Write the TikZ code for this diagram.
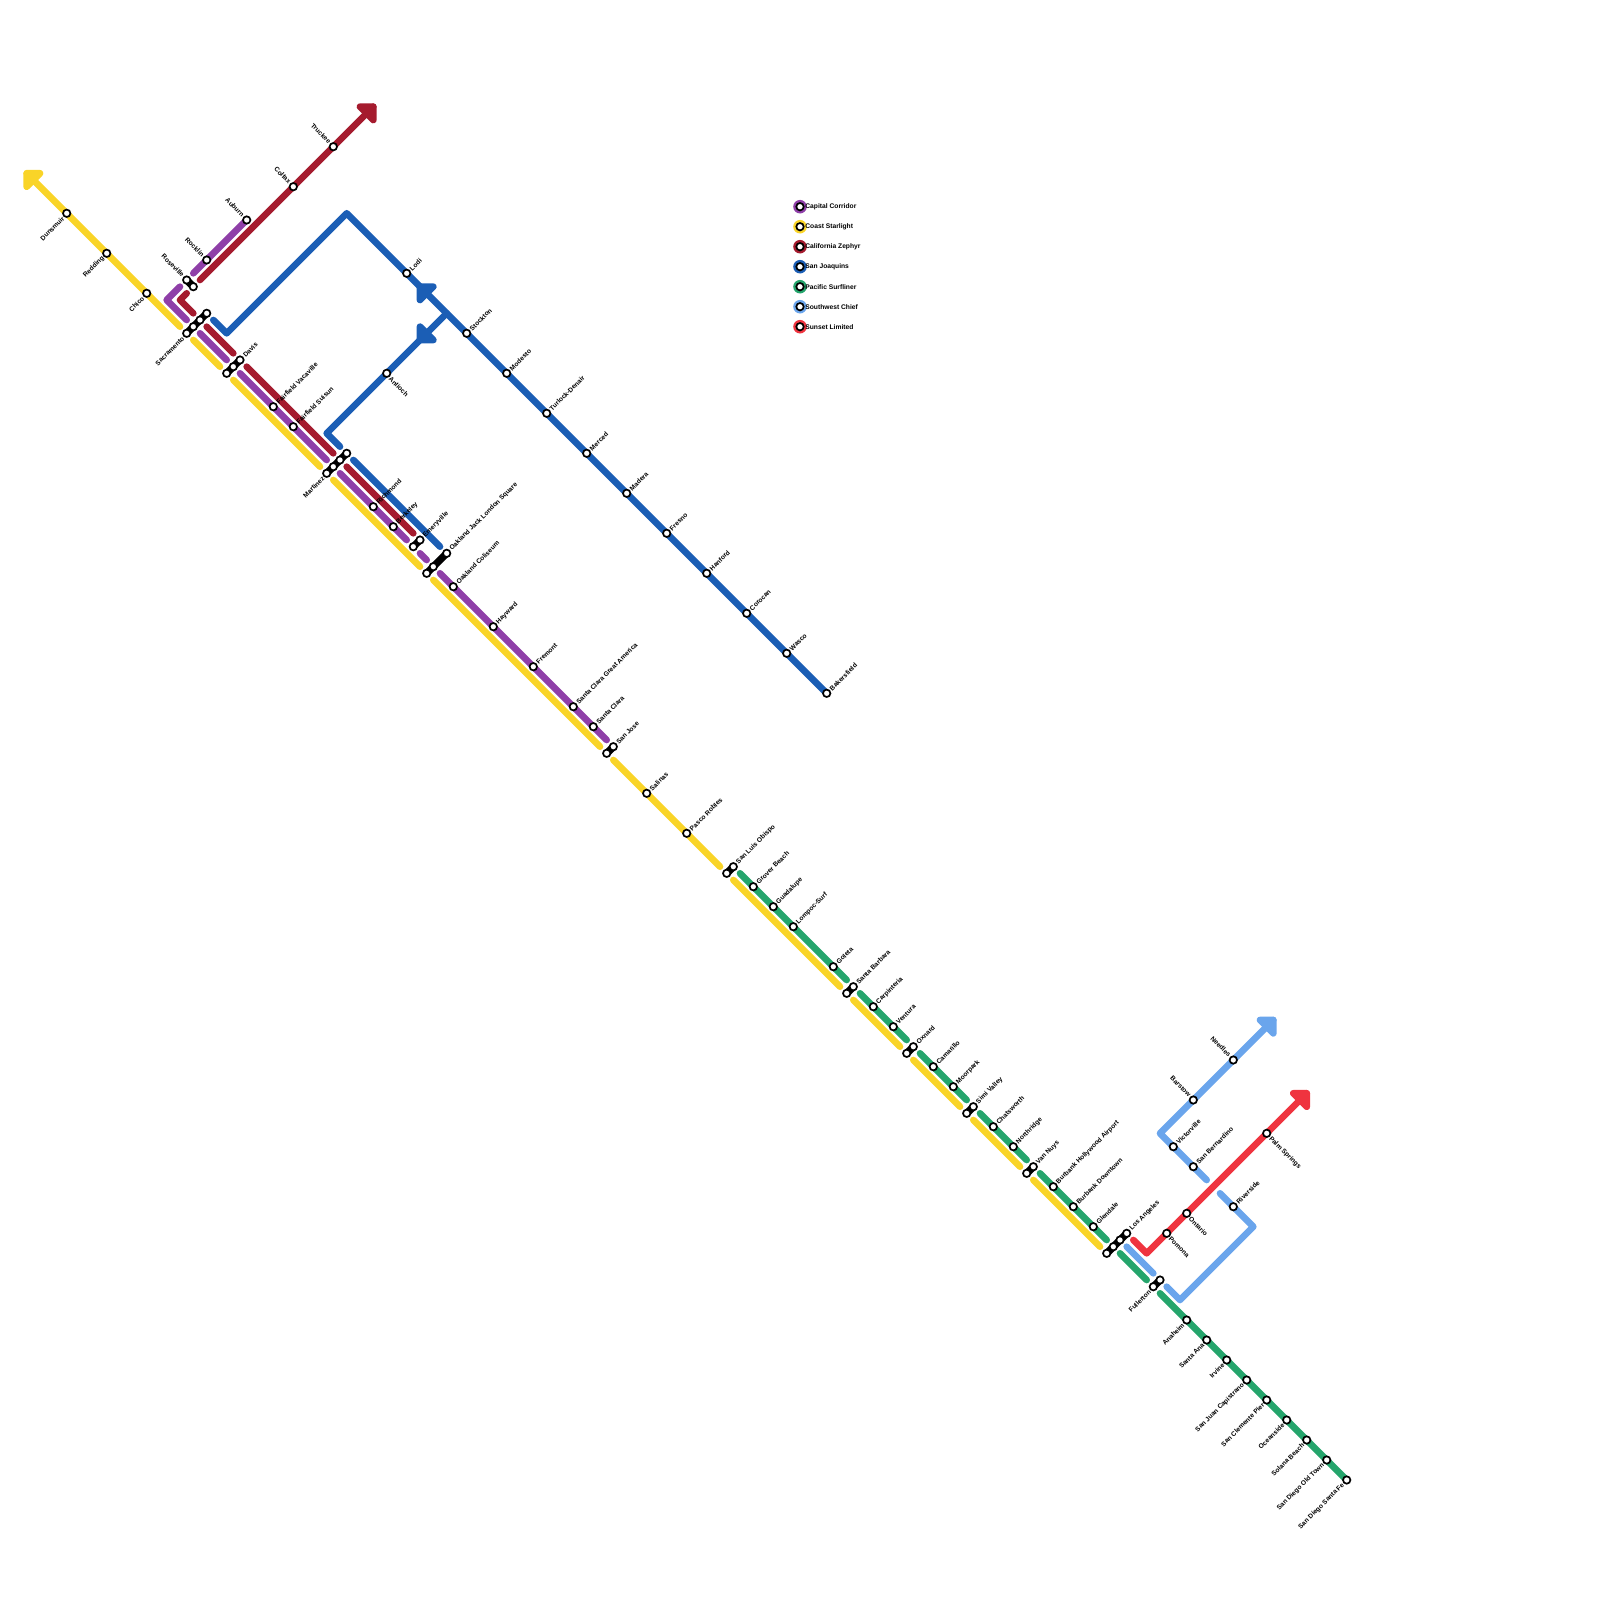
\documentclass[tikz,border=0pt]{standalone}
\usepackage{fontspec}
\setmainfont{Liberation Sans}
\usetikzlibrary{backgrounds}
\definecolor{capitalc}{RGB}{143,63,168}
\definecolor{coastc}{RGB}{249,212,40}
\definecolor{zephyrc}{RGB}{165,27,46}
\definecolor{joaquinc}{RGB}{27,94,181}
\definecolor{surfc}{RGB}{37,165,108}
\definecolor{chiefc}{RGB}{106,165,236}
\definecolor{sunsetc}{RGB}{239,52,63}
\tikzset{
  stn/.style={circle,draw=black,line width=0.85pt,fill=white,minimum size=3.7pt,inner sep=0pt},
  legdot/.style={circle,minimum size=6.8pt,inner sep=0pt},
  legtxt/.style={anchor=west,inner sep=0pt,font=\bfseries\fontsize{3.35}{4}\selectfont,text=black},
  lblne/.style={anchor=west,rotate=45,xshift=2.6pt,yshift=-0.1pt,inner sep=0pt,font=\bfseries\fontsize{3.3}{4}\selectfont,text=black},
  lblsw/.style={anchor=east,rotate=45,xshift=-2.6pt,yshift=-0.3pt,inner sep=0pt,font=\bfseries\fontsize{3.3}{4}\selectfont,text=black},
  lblnw/.style={anchor=east,rotate=-45,xshift=-2.6pt,yshift=0.3pt,inner sep=0pt,font=\bfseries\fontsize{3.3}{4}\selectfont,text=black},
  lblse/.style={anchor=west,rotate=-45,xshift=2.6pt,yshift=-0.5pt,inner sep=0pt,font=\bfseries\fontsize{3.3}{4}\selectfont,text=black},
  railline/.style={line width=3.33pt,line cap=round,line join=round},
  xfer/.style={line width=3.7pt,line cap=round,draw=black},
  headtip/.style={line width=3.33pt,line join=round}
}
\begin{document}
\begin{tikzpicture}[x=0.5pt,y=-0.5pt]
  \useasboundingbox (0,0) rectangle (1600,1600);
  % legend
  \node[legdot,fill=capitalc] (lgcap) at (800,206.7) {};
  \node[legdot,fill=coastc] (lgcoa) at (800,226.7) {};
  \node[legdot,fill=zephyrc] (lgzep) at (800,246.7) {};
  \node[legdot,fill=joaquinc] (lgjoa) at (800,266.7) {};
  \node[legdot,fill=surfc] (lgsur) at (800,286.7) {};
  \node[legdot,fill=chiefc] (lgchi) at (800,306.7) {};
  \node[legdot,fill=sunsetc] (lgsun) at (800,326.7) {};
  \node[stn] (lgcaps) at (lgcap) {};
  \node[stn] (lgcoas) at (lgcoa) {};
  \node[stn] (lgzeps) at (lgzep) {};
  \node[stn] (lgjoas) at (lgjoa) {};
  \node[stn] (lgsurs) at (lgsur) {};
  \node[stn] (lgchis) at (lgchi) {};
  \node[stn] (lgsuns) at (lgsun) {};
  \node[legtxt] (lgcapt) at (805,206.7) {Capital Corridor};
  \node[legtxt] (lgcoat) at (805,226.7) {Coast Starlight};
  \node[legtxt] (lgzept) at (805,246.7) {California Zephyr};
  \node[legtxt] (lgjoat) at (805,266.7) {San Joaquins};
  \node[legtxt] (lgsurt) at (805,286.7) {Pacific Surfliner};
  \node[legtxt] (lgchit) at (805,306.7) {Southwest Chief};
  \node[legtxt] (lgsunt) at (805,326.7) {Sunset Limited};
  % stations, north end
  \node[stn] (dunsmuir) at (66.7,213.3) {};
  \node[stn] (redding) at (106.7,253.3) {};
  \node[stn] (chico) at (146.7,293.3) {};
  \node[stn] (truckee) at (333.3,146.7) {};
  \node[stn] (colfax) at (293.3,186.7) {};
  \node[stn] (auburn) at (246.7,220) {};
  \node[stn] (rocklin) at (206.7,260) {};
  \node[stn] (rosea) at (186.7,280) {};
  \node[stn] (roseb) at (193.3,286.7) {};
  \node[stn] (sacra) at (186.7,333.3) {};
  \node[stn] (sacrb) at (193.3,326.7) {};
  \node[stn] (sacrc) at (200,320) {};
  \node[stn] (sacrd) at (206.7,313.3) {};
  \node[stn] (davisa) at (226.7,373.3) {};
  \node[stn] (davisb) at (233.3,366.7) {};
  \node[stn] (davisc) at (240,360) {};
  \node[stn] (vacaville) at (273.3,406.7) {};
  \node[stn] (suisun) at (293.3,426.7) {};
  \node[stn] (marta) at (326.7,473.3) {};
  \node[stn] (martb) at (333.3,466.7) {};
  \node[stn] (martc) at (340,460) {};
  \node[stn] (martd) at (346.7,453.3) {};
  \node[stn] (richmond) at (373.3,506.7) {};
  \node[stn] (berkeley) at (393.3,526.7) {};
  \node[stn] (emerya) at (413.3,546.7) {};
  \node[stn] (emeryb) at (420,540) {};
  \node[stn] (oaka) at (426.7,573.3) {};
  \node[stn] (oakb) at (433.3,566.7) {};
  \node[stn] (oakc) at (446.7,553.3) {};
  \node[stn] (coliseum) at (453.3,586.7) {};
  \node[stn] (hayward) at (493.3,626.7) {};
  \node[stn] (fremont) at (533.3,666.7) {};
  \node[stn] (america) at (573.3,706.7) {};
  \node[stn] (santaclara) at (593.3,726.7) {};
  \node[stn] (josea) at (606.7,753.3) {};
  \node[stn] (joseb) at (613.3,746.7) {};
  \node[stn] (salinas) at (646.7,793.3) {};
  \node[stn] (robles) at (686.7,833.3) {};
  % stations, valley
  \node[stn] (lodi) at (406.7,273.3) {};
  \node[stn] (stockton) at (466.7,333.3) {};
  \node[stn] (modesto) at (506.7,373.3) {};
  \node[stn] (turlock) at (546.7,413.3) {};
  \node[stn] (merced) at (586.7,453.3) {};
  \node[stn] (madera) at (626.7,493.3) {};
  \node[stn] (fresno) at (666.7,533.3) {};
  \node[stn] (hanford) at (706.7,573.3) {};
  \node[stn] (corocan) at (746.7,613.3) {};
  \node[stn] (wasco) at (786.7,653.3) {};
  \node[stn] (bakersfield) at (826.7,693.3) {};
  \node[stn] (antioch) at (386.7,373.3) {};
  % stations, coast
  \node[stn] (sloa) at (726.7,873.3) {};
  \node[stn] (slob) at (733.3,866.7) {};
  \node[stn] (grover) at (753.3,886.7) {};
  \node[stn] (guadalupe) at (773.3,906.7) {};
  \node[stn] (lompoc) at (793.3,926.7) {};
  \node[stn] (goleta) at (833.3,966.7) {};
  \node[stn] (barba) at (846.7,993.3) {};
  \node[stn] (barbb) at (853.3,986.7) {};
  \node[stn] (carpinteria) at (873.3,1006.7) {};
  \node[stn] (ventura) at (893.3,1026.7) {};
  \node[stn] (oxnarda) at (906.7,1053.3) {};
  \node[stn] (oxnardb) at (913.3,1046.7) {};
  \node[stn] (camarillo) at (933.3,1066.7) {};
  \node[stn] (moorpark) at (953.3,1086.7) {};
  \node[stn] (simia) at (966.7,1113.3) {};
  \node[stn] (simib) at (973.3,1106.7) {};
  \node[stn] (chatsworth) at (993.3,1126.7) {};
  \node[stn] (northridge) at (1013.3,1146.7) {};
  \node[stn] (nuysa) at (1026.7,1173.3) {};
  \node[stn] (nuysb) at (1033.3,1166.7) {};
  \node[stn] (burbanka) at (1053.3,1186.7) {};
  \node[stn] (burbankd) at (1073.3,1206.7) {};
  \node[stn] (glendale) at (1093.3,1226.7) {};
  \node[stn] (laa) at (1106.7,1253.3) {};
  \node[stn] (lab) at (1113.3,1246.7) {};
  \node[stn] (lac) at (1120,1240) {};
  \node[stn] (lad) at (1126.7,1233.3) {};
  \node[stn] (fulla) at (1153.3,1286.7) {};
  \node[stn] (fullb) at (1160,1280) {};
  \node[stn] (anaheim) at (1186.7,1320) {};
  \node[stn] (santaana) at (1206.7,1340) {};
  \node[stn] (irvine) at (1226.7,1360) {};
  \node[stn] (capistrano) at (1246.7,1380) {};
  \node[stn] (clemente) at (1266.7,1400) {};
  \node[stn] (oceanside) at (1286.7,1420) {};
  \node[stn] (solana) at (1306.7,1440) {};
  \node[stn] (oldtown) at (1326.7,1460) {};
  \node[stn] (santafe) at (1346.7,1480) {};
  % stations, desert
  \node[stn] (needles) at (1233.3,1060) {};
  \node[stn] (barstow) at (1193.3,1100) {};
  \node[stn] (victorville) at (1173.3,1146.7) {};
  \node[stn] (bernardino) at (1193.3,1166.7) {};
  \node[stn] (riverside) at (1233.3,1206.7) {};
  \node[stn] (pomona) at (1166.7,1233.3) {};
  \node[stn] (ontario) at (1186.7,1213.3) {};
  \node[stn] (palm) at (1266.7,1133.3) {};
  % labels
  \node[lblsw] (dunsmuirt) at (dunsmuir) {Dunsmuir};
  \node[lblsw] (reddingt) at (redding) {Redding};
  \node[lblsw] (chicot) at (chico) {Chico};
  \node[lblnw] (truckeet) at (truckee) {Truckee};
  \node[lblnw] (colfaxt) at (colfax) {Colfax};
  \node[lblnw] (auburnt) at (auburn) {Auburn};
  \node[lblnw] (rocklint) at (rocklin) {Rocklin};
  \node[lblnw] (roseat) at (rosea) {Roseville};
  \node[lblsw] (sacrat) at (sacra) {Sacramento};
  \node[lblne] (davisct) at (davisc) {Davis};
  \node[lblne] (vacavillet) at (vacaville) {Fairfield Vacaville};
  \node[lblne] (suisunt) at (suisun) {Fairfield Suisun};
  \node[lblsw] (martat) at (marta) {Martinez};
  \node[lblne] (richmondt) at (richmond) {Richmond};
  \node[lblne] (berkeleyt) at (berkeley) {Berkeley};
  \node[lblne] (emerybt) at (emeryb) {Emeryville};
  \node[lblne] (oakct) at (oakc) {Oakland Jack London Square};
  \node[lblne] (coliseumt) at (coliseum) {Oakland Coliseum};
  \node[lblne] (haywardt) at (hayward) {Hayward};
  \node[lblne] (fremontt) at (fremont) {Fremont};
  \node[lblne] (americat) at (america) {Santa Clara Great America};
  \node[lblne] (santaclarat) at (santaclara) {Santa Clara};
  \node[lblne] (josebt) at (joseb) {San Jose};
  \node[lblne] (salinast) at (salinas) {Salinas};
  \node[lblne] (roblest) at (robles) {Pasco Robles};
  \node[lblne] (lodit) at (lodi) {Lodi};
  \node[lblne] (stocktont) at (stockton) {Stockton};
  \node[lblne] (modestot) at (modesto) {Modesto};
  \node[lblne] (turlockt) at (turlock) {Turlock-Denair};
  \node[lblne] (mercedt) at (merced) {Merced};
  \node[lblne] (maderat) at (madera) {Madera};
  \node[lblne] (fresnot) at (fresno) {Fresno};
  \node[lblne] (hanfordt) at (hanford) {Hanford};
  \node[lblne] (corocant) at (corocan) {Corocan};
  \node[lblne] (wascot) at (wasco) {Wasco};
  \node[lblne] (bakersfieldt) at (bakersfield) {Bakersfield};
  \node[lblse] (antiocht) at (antioch) {Antioch};
  \node[lblne] (slobt) at (slob) {San Luis Obispo};
  \node[lblne] (grovert) at (grover) {Grover Beach};
  \node[lblne] (guadalupet) at (guadalupe) {Guadalupe};
  \node[lblne] (lompoct) at (lompoc) {Lompoc-Surf};
  \node[lblne] (goletat) at (goleta) {Goleta};
  \node[lblne] (barbbt) at (barbb) {Santa Barbara};
  \node[lblne] (carpinteriat) at (carpinteria) {Carpinteria};
  \node[lblne] (venturat) at (ventura) {Ventura};
  \node[lblne] (oxnardbt) at (oxnardb) {Oxnard};
  \node[lblne] (camarillot) at (camarillo) {Camarillo};
  \node[lblne] (moorparkt) at (moorpark) {Moorpark};
  \node[lblne] (simibt) at (simib) {Simi Valley};
  \node[lblne] (chatswortht) at (chatsworth) {Chatsworth};
  \node[lblne] (northridget) at (northridge) {Northridge};
  \node[lblne] (nuysbt) at (nuysb) {Van Nuys};
  \node[lblne] (burbankat) at (burbanka) {Burbank Hollywood Airport};
  \node[lblne] (burbankdt) at (burbankd) {Burbank Downtown};
  \node[lblne] (glendalet) at (glendale) {Glendale};
  \node[lblne] (ladt) at (lad) {Los Angeles};
  \node[lblsw] (fullat) at (fulla) {Fullerton};
  \node[lblsw] (anaheimt) at (anaheim) {Anaheim};
  \node[lblsw] (santaanat) at (santaana) {Santa Ana};
  \node[lblsw] (irvinet) at (irvine) {Irvine};
  \node[lblsw] (capistranot) at (capistrano) {San Juan Capistrano};
  \node[lblsw] (clementet) at (clemente) {San Clemente Pier};
  \node[lblsw] (oceansidet) at (oceanside) {Oceanside};
  \node[lblsw] (solanat) at (solana) {Solana Beach};
  \node[lblsw] (oldtownt) at (oldtown) {San Diego Old Town};
  \node[lblsw] (santafet) at (santafe) {San Diego Santa Fe};
  \node[lblnw] (needlest) at (needles) {Needles};
  \node[lblnw] (barstowt) at (barstow) {Barstow};
  \node[lblne] (victorvillet) at (victorville) {Victorville};
  \node[lblne] (bernardinot) at (bernardino) {San Bernardino};
  \node[lblne] (riversidet) at (riverside) {Riverside};
  \node[lblse] (pomonat) at (pomona) {Pomona};
  \node[lblse] (ontariot) at (ontario) {Ontario};
  \node[lblse] (palmt) at (palm) {Palm Springs};
  % free ends of the lines
  \coordinate (coa) at (26.7,173.3); \coordinate (coal) at (40,173.3); \coordinate (coad) at (26.7,186.7);
  \coordinate (cob) at (180,326.7);
  \coordinate (coc) at (193.3,340); \coordinate (cod) at (220,366.7);
  \coordinate (coe) at (233.3,380); \coordinate (cof) at (320,466.7);
  \coordinate (cog) at (333.3,480); \coordinate (coh) at (420,566.7);
  \coordinate (coi) at (433.3,580); \coordinate (coj) at (600,746.7);
  \coordinate (cok) at (613.3,760); \coordinate (col) at (720,866.7);
  \coordinate (com) at (733.3,880); \coordinate (con) at (840,986.7);
  \coordinate (coo) at (853.3,1000); \coordinate (cop) at (900,1046.7);
  \coordinate (coq) at (913.3,1060); \coordinate (cor) at (960,1106.7);
  \coordinate (cos) at (973.3,1120); \coordinate (cot) at (1020,1166.7);
  \coordinate (cou) at (1033.3,1180); \coordinate (cov) at (1100,1246.7);
  \coordinate (caa) at (193.3,273.3);
  \coordinate (cab) at (180,286.7); \coordinate (cac) at (166.7,300); \coordinate (cad) at (186.7,320);
  \coordinate (cae) at (200,333.3); \coordinate (caf) at (226.7,360);
  \coordinate (cag) at (240,373.3); \coordinate (cah) at (326.7,460);
  \coordinate (cai) at (340,473.3); \coordinate (caj) at (406.7,540);
  \coordinate (cak) at (420,553.3); \coordinate (cal) at (426.7,560);
  \coordinate (cam) at (440,573.3); \coordinate (can) at (606.7,740);
  \coordinate (zea) at (373.3,106.7); \coordinate (zel) at (360,106.7); \coordinate (zed) at (373.3,120);
  \coordinate (zeb) at (200,280);
  \coordinate (zec) at (186.7,293.3); \coordinate (zee) at (180,300); \coordinate (zef) at (193.3,313.3);
  \coordinate (zeg) at (206.7,326.7); \coordinate (zeh) at (233.3,353.3);
  \coordinate (zei) at (246.7,366.7); \coordinate (zej) at (333.3,453.3);
  \coordinate (zek) at (346.7,466.7); \coordinate (zem) at (413.3,533.3);
  \coordinate (joa) at (213.3,320); \coordinate (job) at (226.7,333.3); \coordinate (joc) at (346.7,213.3);
  \coordinate (jod) at (446.7,313.3); \coordinate (joe) at (326.7,433.3); \coordinate (jof) at (340,446.7);
  \coordinate (jog) at (353.3,460); \coordinate (joh) at (440,546.7);
  \coordinate (joi) at (420,286.7); \coordinate (joj) at (433.3,286.7); \coordinate (jok) at (420,300);
  \coordinate (jol) at (420,340); \coordinate (jom) at (420,326.7); \coordinate (jon) at (433.3,340);
  \coordinate (sua) at (740,873.3); \coordinate (sub) at (846.7,980);
  \coordinate (suc) at (860,993.3); \coordinate (sud) at (906.7,1040);
  \coordinate (sue) at (920,1053.3); \coordinate (suf) at (966.7,1100);
  \coordinate (sug) at (980,1113.3); \coordinate (suh) at (1026.7,1160);
  \coordinate (sui) at (1040,1173.3); \coordinate (suj) at (1106.7,1240);
  \coordinate (suk) at (1120,1253.3); \coordinate (sul) at (1146.7,1280);
  \coordinate (sum) at (1160,1293.3);
  \coordinate (cha) at (1273.3,1020); \coordinate (chl) at (1260,1020); \coordinate (chd) at (1273.3,1033.3);
  \coordinate (chb) at (1160,1133.3); \coordinate (chc) at (1206.7,1180);
  \coordinate (che) at (1220,1193.3); \coordinate (chf) at (1253.3,1226.7);
  \coordinate (chg) at (1180,1300); \coordinate (chh) at (1166.7,1286.7);
  \coordinate (chi) at (1126.7,1246.7); \coordinate (chj) at (1153.3,1273.3);
  \coordinate (sna) at (1133.3,1240); \coordinate (snb) at (1146.7,1253.3);
  \coordinate (snc) at (1306.7,1093.3); \coordinate (snl) at (1293.3,1093.3); \coordinate (snd) at (1306.7,1106.7);
  \begin{scope}[on background layer]
    % Coast Starlight
    \draw[railline,draw=coastc] (coa) -- (cob);
    \draw[railline,draw=coastc] (coc) -- (cod);
    \draw[railline,draw=coastc] (coe) -- (cof);
    \draw[railline,draw=coastc] (cog) -- (coh);
    \draw[railline,draw=coastc] (coi) -- (coj);
    \draw[railline,draw=coastc] (cok) -- (col);
    \draw[railline,draw=coastc] (com) -- (con);
    \draw[railline,draw=coastc] (coo) -- (cop);
    \draw[railline,draw=coastc] (coq) -- (cor);
    \draw[railline,draw=coastc] (cos) -- (cot);
    \draw[railline,draw=coastc] (cou) -- (cov);
    \draw[headtip,draw=coastc,fill=coastc] (coa) -- (coal) -- (coad) -- cycle;
    % Capital Corridor
    \draw[railline,draw=capitalc] (auburn.center) -- (caa);
    \draw[railline,draw=capitalc] (cab) -- (cac) -- (cad);
    \draw[railline,draw=capitalc] (cae) -- (caf);
    \draw[railline,draw=capitalc] (cag) -- (cah);
    \draw[railline,draw=capitalc] (cai) -- (caj);
    \draw[railline,draw=capitalc] (cak) -- (cal);
    \draw[railline,draw=capitalc] (cam) -- (can);
    % California Zephyr
    \draw[railline,draw=zephyrc] (zea) -- (zeb);
    \draw[headtip,draw=zephyrc,fill=zephyrc] (zea) -- (zel) -- (zed) -- cycle;
    \draw[railline,draw=zephyrc] (zec) -- (zee) -- (zef);
    \draw[railline,draw=zephyrc] (zeg) -- (zeh);
    \draw[railline,draw=zephyrc] (zei) -- (zej);
    \draw[railline,draw=zephyrc] (zek) -- (zem);
    % San Joaquins
    \draw[railline,draw=joaquinc] (joa) -- (job) -- (joc) -- (bakersfield.center);
    \draw[railline,draw=joaquinc] (jod) -- (joe) -- (jof);
    \draw[railline,draw=joaquinc] (jog) -- (joh);
    \draw[headtip,draw=joaquinc,fill=joaquinc] (joi) -- (joj) -- (jok) -- cycle;
    \draw[headtip,draw=joaquinc,fill=joaquinc] (jol) -- (jom) -- (jon) -- cycle;
    % Pacific Surfliner
    \draw[railline,draw=surfc] (sua) -- (sub);
    \draw[railline,draw=surfc] (suc) -- (sud);
    \draw[railline,draw=surfc] (sue) -- (suf);
    \draw[railline,draw=surfc] (sug) -- (suh);
    \draw[railline,draw=surfc] (sui) -- (suj);
    \draw[railline,draw=surfc] (suk) -- (sul);
    \draw[railline,draw=surfc] (sum) -- (santafe.center);
    % Southwest Chief
    \draw[railline,draw=chiefc] (cha) -- (chb) -- (chc);
    \draw[headtip,draw=chiefc,fill=chiefc] (cha) -- (chl) -- (chd) -- cycle;
    \draw[railline,draw=chiefc] (che) -- (chf) -- (chg) -- (chh);
    \draw[railline,draw=chiefc] (chi) -- (chj);
    % Sunset Limited
    \draw[railline,draw=sunsetc] (sna) -- (snb) -- (snc);
    \draw[headtip,draw=sunsetc,fill=sunsetc] (snc) -- (snl) -- (snd) -- cycle;
    % interchanges
    \draw[xfer] (rosea.center) -- (roseb.center);
    \draw[xfer] (sacra.center) -- (sacrd.center);
    \draw[xfer] (davisa.center) -- (davisc.center);
    \draw[xfer] (marta.center) -- (martd.center);
    \draw[xfer] (emerya.center) -- (emeryb.center);
    \draw[xfer] (oaka.center) -- (oakc.center);
    \draw[xfer] (josea.center) -- (joseb.center);
    \draw[xfer] (sloa.center) -- (slob.center);
    \draw[xfer] (barba.center) -- (barbb.center);
    \draw[xfer] (oxnarda.center) -- (oxnardb.center);
    \draw[xfer] (simia.center) -- (simib.center);
    \draw[xfer] (nuysa.center) -- (nuysb.center);
    \draw[xfer] (laa.center) -- (lad.center);
    \draw[xfer] (fulla.center) -- (fullb.center);
  \end{scope}
\end{tikzpicture}
\end{document}
